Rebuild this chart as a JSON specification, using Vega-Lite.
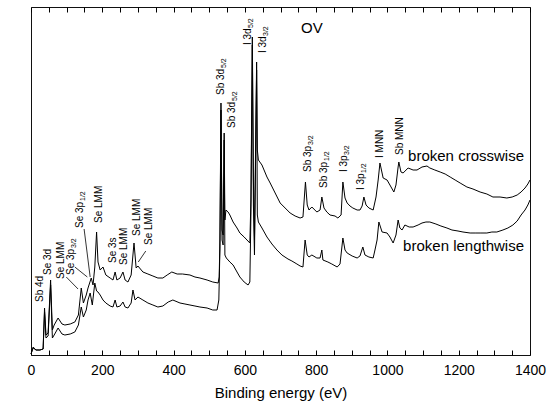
{
  "$schema": "https://vega.github.io/schema/vega-lite/v6.json",
  "width": 499,
  "height": 348,
  "autosize": {"type": "none"},
  "padding": {"left": 31, "top": 7, "right": 17, "bottom": 57},
  "background": "white",
  "config": {
    "font": "Liberation Sans",
    "view": {"stroke": "#111", "strokeWidth": 1},
    "axis": {"grid": false, "domain": false, "labelColor": "#000", "titleColor": "#000", "tickColor": "#000", "tickWidth": 1, "titleFontWeight": "normal", "zindex": 1}
  },
  "datasets": {
    "spectra": [
      {"s":"crosswise","e":0,"v":1},{"s":"crosswise","e":6,"v":8},{"s":"crosswise","e":14,"v":5},{"s":"crosswise","e":25,"v":5},{"s":"crosswise","e":34,"v":6},{"s":"crosswise","e":38,"v":47},{"s":"crosswise","e":42,"v":20},{"s":"crosswise","e":48,"v":22},{"s":"crosswise","e":55,"v":75},{"s":"crosswise","e":60,"v":25},{"s":"crosswise","e":65,"v":30},{"s":"crosswise","e":76,"v":37},{"s":"crosswise","e":87,"v":31},{"s":"crosswise","e":95,"v":30},{"s":"crosswise","e":110,"v":31},{"s":"crosswise","e":123,"v":33},{"s":"crosswise","e":133,"v":40},{"s":"crosswise","e":141,"v":67},{"s":"crosswise","e":147,"v":52},{"s":"crosswise","e":155,"v":60},{"s":"crosswise","e":160,"v":67},{"s":"crosswise","e":169,"v":77},{"s":"crosswise","e":174,"v":70},{"s":"crosswise","e":179,"v":88},{"s":"crosswise","e":184,"v":123},{"s":"crosswise","e":188,"v":93},{"s":"crosswise","e":194,"v":85},{"s":"crosswise","e":202,"v":88},{"s":"crosswise","e":210,"v":80},{"s":"crosswise","e":222,"v":77},{"s":"crosswise","e":230,"v":75},{"s":"crosswise","e":236,"v":83},{"s":"crosswise","e":241,"v":75},{"s":"crosswise","e":250,"v":77},{"s":"crosswise","e":258,"v":83},{"s":"crosswise","e":264,"v":75},{"s":"crosswise","e":272,"v":73},{"s":"crosswise","e":281,"v":80},{"s":"crosswise","e":289,"v":112},{"s":"crosswise","e":295,"v":87},{"s":"crosswise","e":300,"v":89},{"s":"crosswise","e":314,"v":83},{"s":"crosswise","e":328,"v":81},{"s":"crosswise","e":342,"v":79},{"s":"crosswise","e":356,"v":77},{"s":"crosswise","e":370,"v":77},{"s":"crosswise","e":382,"v":80},{"s":"crosswise","e":395,"v":83},{"s":"crosswise","e":410,"v":81},{"s":"crosswise","e":425,"v":81},{"s":"crosswise","e":446,"v":80},{"s":"crosswise","e":460,"v":78},{"s":"crosswise","e":474,"v":77},{"s":"crosswise","e":494,"v":75},{"s":"crosswise","e":510,"v":73},{"s":"crosswise","e":525,"v":72},{"s":"crosswise","e":528,"v":78},{"s":"crosswise","e":530,"v":115},{"s":"crosswise","e":533,"v":252},{"s":"crosswise","e":536,"v":125},{"s":"crosswise","e":539,"v":120},{"s":"crosswise","e":542,"v":222},{"s":"crosswise","e":544,"v":135},{"s":"crosswise","e":547,"v":145},{"s":"crosswise","e":553,"v":143},{"s":"crosswise","e":558,"v":140},{"s":"crosswise","e":567,"v":133},{"s":"crosswise","e":578,"v":127},{"s":"crosswise","e":586,"v":122},{"s":"crosswise","e":598,"v":118},{"s":"crosswise","e":606,"v":115},{"s":"crosswise","e":614,"v":112},{"s":"crosswise","e":617,"v":155},{"s":"crosswise","e":621,"v":318},{"s":"crosswise","e":624,"v":175},{"s":"crosswise","e":627,"v":115},{"s":"crosswise","e":633,"v":293},{"s":"crosswise","e":635,"v":205},{"s":"crosswise","e":638,"v":195},{"s":"crosswise","e":648,"v":190},{"s":"crosswise","e":662,"v":178},{"s":"crosswise","e":671,"v":172},{"s":"crosswise","e":685,"v":162},{"s":"crosswise","e":699,"v":152},{"s":"crosswise","e":713,"v":147},{"s":"crosswise","e":727,"v":142},{"s":"crosswise","e":741,"v":139},{"s":"crosswise","e":755,"v":137},{"s":"crosswise","e":763,"v":138},{"s":"crosswise","e":770,"v":173},{"s":"crosswise","e":775,"v":150},{"s":"crosswise","e":780,"v":145},{"s":"crosswise","e":788,"v":148},{"s":"crosswise","e":802,"v":143},{"s":"crosswise","e":811,"v":145},{"s":"crosswise","e":816,"v":158},{"s":"crosswise","e":822,"v":147},{"s":"crosswise","e":830,"v":143},{"s":"crosswise","e":839,"v":140},{"s":"crosswise","e":853,"v":139},{"s":"crosswise","e":861,"v":137},{"s":"crosswise","e":870,"v":140},{"s":"crosswise","e":875,"v":173},{"s":"crosswise","e":881,"v":157},{"s":"crosswise","e":887,"v":152},{"s":"crosswise","e":895,"v":149},{"s":"crosswise","e":903,"v":147},{"s":"crosswise","e":915,"v":145},{"s":"crosswise","e":923,"v":145},{"s":"crosswise","e":929,"v":149},{"s":"crosswise","e":934,"v":158},{"s":"crosswise","e":940,"v":150},{"s":"crosswise","e":948,"v":147},{"s":"crosswise","e":960,"v":145},{"s":"crosswise","e":968,"v":158},{"s":"crosswise","e":974,"v":175},{"s":"crosswise","e":979,"v":192},{"s":"crosswise","e":988,"v":177},{"s":"crosswise","e":999,"v":175},{"s":"crosswise","e":1007,"v":170},{"s":"crosswise","e":1018,"v":163},{"s":"crosswise","e":1024,"v":170},{"s":"crosswise","e":1030,"v":188},{"s":"crosswise","e":1032,"v":193},{"s":"crosswise","e":1038,"v":183},{"s":"crosswise","e":1044,"v":182},{"s":"crosswise","e":1058,"v":187},{"s":"crosswise","e":1072,"v":185},{"s":"crosswise","e":1083,"v":185},{"s":"crosswise","e":1097,"v":188},{"s":"crosswise","e":1111,"v":189},{"s":"crosswise","e":1119,"v":187},{"s":"crosswise","e":1133,"v":185},{"s":"crosswise","e":1148,"v":183},{"s":"crosswise","e":1162,"v":181},{"s":"crosswise","e":1176,"v":178},{"s":"crosswise","e":1190,"v":175},{"s":"crosswise","e":1204,"v":172},{"s":"crosswise","e":1223,"v":168},{"s":"crosswise","e":1240,"v":166},{"s":"crosswise","e":1260,"v":163},{"s":"crosswise","e":1279,"v":161},{"s":"crosswise","e":1296,"v":158},{"s":"crosswise","e":1316,"v":158},{"s":"crosswise","e":1335,"v":157},{"s":"crosswise","e":1350,"v":158},{"s":"crosswise","e":1364,"v":160},{"s":"crosswise","e":1375,"v":163},{"s":"crosswise","e":1386,"v":167},{"s":"crosswise","e":1394,"v":171},{"s":"crosswise","e":1400,"v":175},
      {"s":"lengthwise","e":0,"v":1},{"s":"lengthwise","e":6,"v":7},{"s":"lengthwise","e":14,"v":5},{"s":"lengthwise","e":25,"v":5},{"s":"lengthwise","e":34,"v":6},{"s":"lengthwise","e":38,"v":43},{"s":"lengthwise","e":42,"v":17},{"s":"lengthwise","e":48,"v":19},{"s":"lengthwise","e":55,"v":70},{"s":"lengthwise","e":60,"v":17},{"s":"lengthwise","e":65,"v":20},{"s":"lengthwise","e":76,"v":27},{"s":"lengthwise","e":87,"v":21},{"s":"lengthwise","e":95,"v":20},{"s":"lengthwise","e":110,"v":21},{"s":"lengthwise","e":123,"v":23},{"s":"lengthwise","e":133,"v":30},{"s":"lengthwise","e":141,"v":48},{"s":"lengthwise","e":147,"v":38},{"s":"lengthwise","e":155,"v":45},{"s":"lengthwise","e":160,"v":55},{"s":"lengthwise","e":166,"v":62},{"s":"lengthwise","e":172,"v":50},{"s":"lengthwise","e":179,"v":72},{"s":"lengthwise","e":184,"v":64},{"s":"lengthwise","e":188,"v":63},{"s":"lengthwise","e":194,"v":60},{"s":"lengthwise","e":202,"v":55},{"s":"lengthwise","e":210,"v":52},{"s":"lengthwise","e":222,"v":49},{"s":"lengthwise","e":230,"v":48},{"s":"lengthwise","e":236,"v":55},{"s":"lengthwise","e":241,"v":48},{"s":"lengthwise","e":250,"v":49},{"s":"lengthwise","e":258,"v":53},{"s":"lengthwise","e":264,"v":48},{"s":"lengthwise","e":272,"v":47},{"s":"lengthwise","e":281,"v":52},{"s":"lengthwise","e":286,"v":65},{"s":"lengthwise","e":292,"v":55},{"s":"lengthwise","e":300,"v":58},{"s":"lengthwise","e":314,"v":55},{"s":"lengthwise","e":328,"v":52},{"s":"lengthwise","e":342,"v":50},{"s":"lengthwise","e":356,"v":48},{"s":"lengthwise","e":370,"v":49},{"s":"lengthwise","e":385,"v":53},{"s":"lengthwise","e":398,"v":55},{"s":"lengthwise","e":418,"v":52},{"s":"lengthwise","e":432,"v":51},{"s":"lengthwise","e":446,"v":50},{"s":"lengthwise","e":460,"v":49},{"s":"lengthwise","e":474,"v":48},{"s":"lengthwise","e":494,"v":47},{"s":"lengthwise","e":510,"v":45},{"s":"lengthwise","e":522,"v":45},{"s":"lengthwise","e":527,"v":55},{"s":"lengthwise","e":530,"v":105},{"s":"lengthwise","e":533,"v":245},{"s":"lengthwise","e":536,"v":115},{"s":"lengthwise","e":539,"v":110},{"s":"lengthwise","e":542,"v":215},{"s":"lengthwise","e":544,"v":100},{"s":"lengthwise","e":548,"v":97},{"s":"lengthwise","e":553,"v":95},{"s":"lengthwise","e":558,"v":93},{"s":"lengthwise","e":567,"v":90},{"s":"lengthwise","e":578,"v":83},{"s":"lengthwise","e":586,"v":78},{"s":"lengthwise","e":598,"v":73},{"s":"lengthwise","e":609,"v":70},{"s":"lengthwise","e":614,"v":73},{"s":"lengthwise","e":617,"v":140},{"s":"lengthwise","e":621,"v":310},{"s":"lengthwise","e":624,"v":150},{"s":"lengthwise","e":627,"v":100},{"s":"lengthwise","e":633,"v":285},{"s":"lengthwise","e":635,"v":140},{"s":"lengthwise","e":638,"v":133},{"s":"lengthwise","e":648,"v":127},{"s":"lengthwise","e":662,"v":118},{"s":"lengthwise","e":676,"v":111},{"s":"lengthwise","e":690,"v":105},{"s":"lengthwise","e":704,"v":100},{"s":"lengthwise","e":721,"v":96},{"s":"lengthwise","e":732,"v":94},{"s":"lengthwise","e":746,"v":91},{"s":"lengthwise","e":755,"v":89},{"s":"lengthwise","e":763,"v":88},{"s":"lengthwise","e":769,"v":115},{"s":"lengthwise","e":775,"v":100},{"s":"lengthwise","e":780,"v":98},{"s":"lengthwise","e":788,"v":100},{"s":"lengthwise","e":802,"v":97},{"s":"lengthwise","e":811,"v":97},{"s":"lengthwise","e":816,"v":105},{"s":"lengthwise","e":819,"v":95},{"s":"lengthwise","e":833,"v":93},{"s":"lengthwise","e":844,"v":91},{"s":"lengthwise","e":859,"v":88},{"s":"lengthwise","e":867,"v":91},{"s":"lengthwise","e":875,"v":117},{"s":"lengthwise","e":881,"v":105},{"s":"lengthwise","e":887,"v":102},{"s":"lengthwise","e":901,"v":99},{"s":"lengthwise","e":915,"v":97},{"s":"lengthwise","e":923,"v":99},{"s":"lengthwise","e":931,"v":108},{"s":"lengthwise","e":937,"v":100},{"s":"lengthwise","e":948,"v":98},{"s":"lengthwise","e":960,"v":97},{"s":"lengthwise","e":965,"v":105},{"s":"lengthwise","e":971,"v":115},{"s":"lengthwise","e":976,"v":133},{"s":"lengthwise","e":985,"v":123},{"s":"lengthwise","e":999,"v":122},{"s":"lengthwise","e":1007,"v":118},{"s":"lengthwise","e":1016,"v":112},{"s":"lengthwise","e":1024,"v":120},{"s":"lengthwise","e":1030,"v":135},{"s":"lengthwise","e":1035,"v":127},{"s":"lengthwise","e":1041,"v":125},{"s":"lengthwise","e":1049,"v":130},{"s":"lengthwise","e":1061,"v":128},{"s":"lengthwise","e":1072,"v":128},{"s":"lengthwise","e":1086,"v":130},{"s":"lengthwise","e":1097,"v":132},{"s":"lengthwise","e":1108,"v":133},{"s":"lengthwise","e":1119,"v":133},{"s":"lengthwise","e":1136,"v":131},{"s":"lengthwise","e":1150,"v":129},{"s":"lengthwise","e":1167,"v":127},{"s":"lengthwise","e":1181,"v":125},{"s":"lengthwise","e":1198,"v":124},{"s":"lengthwise","e":1212,"v":123},{"s":"lengthwise","e":1232,"v":122},{"s":"lengthwise","e":1246,"v":122},{"s":"lengthwise","e":1260,"v":122},{"s":"lengthwise","e":1279,"v":122},{"s":"lengthwise","e":1293,"v":123},{"s":"lengthwise","e":1307,"v":123},{"s":"lengthwise","e":1324,"v":125},{"s":"lengthwise","e":1338,"v":127},{"s":"lengthwise","e":1352,"v":130},{"s":"lengthwise","e":1364,"v":134},{"s":"lengthwise","e":1375,"v":140},{"s":"lengthwise","e":1386,"v":145},{"s":"lengthwise","e":1394,"v":150},{"s":"lengthwise","e":1400,"v":155}
    ],
    "leaders": [
      {"e":99,"v":78,"e2":132,"v2":66},
      {"e":123,"v":88,"e2":158,"v2":78},
      {"e":149,"v":126,"e2":166,"v2":78},
      {"e":322,"v":104,"e2":301,"v2":93}
    ],
    "labels": [
      {"e":24,"v":53,"t":"Sb 4d"},
      {"e":48,"v":80,"t":"Se 3d"},
      {"e":83,"v":76,"t":"Se LMM"},
      {"e":113,"v":80,"t":"Se 3p"},
      {"e":137,"v":127,"t":"Se 3p"},
      {"e":191,"v":132,"t":"Se LMM"},
      {"e":231,"v":92,"t":"Se 3s"},
      {"e":261,"v":90,"t":"Se LMM"},
      {"e":296,"v":119,"t":"Se LMM"},
      {"e":330,"v":110,"t":"Se LMM"},
      {"e":532,"v":260,"t":"Sb 3d"},
      {"e":563,"v":227,"t":"Sb 3d"},
      {"e":608,"v":310,"t":"I 3d"},
      {"e":650,"v":302,"t":"I 3d"},
      {"e":777,"v":183,"t":"Sb 3p"},
      {"e":822,"v":167,"t":"Sb 3p"},
      {"e":878,"v":183,"t":"I 3p"},
      {"e":926,"v":165,"t":"I 3p"},
      {"e":979,"v":197,"t":"I MNN"},
      {"e":1035,"v":200,"t":"Sb MNN"}
    ],
    "subs": [
      {"e":113,"v":107,"t":"3/2"},
      {"e":137,"v":154,"t":"1/2"},
      {"e":532,"v":287,"t":"5/2"},
      {"e":563,"v":254,"t":"5/2"},
      {"e":608,"v":327,"t":"5/2"},
      {"e":650,"v":319,"t":"3/2"},
      {"e":777,"v":210,"t":"3/2"},
      {"e":822,"v":194,"t":"1/2"},
      {"e":878,"v":200,"t":"3/2"},
      {"e":926,"v":182,"t":"1/2"}
    ],
    "captions": [
      {"e":1058,"v":199,"t":"broken crosswise"},
      {"e":1044,"v":109,"t":"broken lengthwise"}
    ],
    "heading": [
      {"e":788,"v":327,"t":"OV"}
    ]
  },
  "layer": [
    {
      "data": {"name": "spectra"},
      "mark": {"type": "line", "color": "#000", "strokeWidth": 1},
      "encoding": {
        "x": {"field": "e", "type": "quantitative", "scale": {"domain": [0, 1400], "nice": false, "zero": false},
          "axis": {"orient": "bottom", "title": "Binding energy (eV)", "titleFontSize": 15, "titlePadding": 8, "labelFontSize": 14, "labelPadding": 8, "format": "d", "ticks": true, "offset": -5,
            "values": [0,50,100,150,200,250,300,350,400,450,500,550,600,650,700,750,800,850,900,950,1000,1050,1100,1150,1200,1250,1300,1350,1400],
            "labelExpr": "datum.value % 200 == 0 ? datum.label : ''", "labelOverlap": false, "labelFlush": false, "tickSize": 5}},
        "y": {"field": "v", "type": "quantitative", "scale": {"domain": [0, 348], "nice": false, "zero": false},
          "axis": {"title": "Intensity (arb.u.)", "titleFontSize": 15, "labels": false, "ticks": false, "titlePadding": 8}},
        "detail": {"field": "s", "type": "nominal"}
      }
    },
    {
      "data": {"name": "leaders"},
      "mark": {"type": "rule", "color": "#000", "strokeWidth": 0.8},
      "encoding": {
        "x": {"field": "e", "type": "quantitative",
          "axis": {"orient": "top", "title": null, "labels": false, "ticks": true, "tickSize": 5, "offset": -5,
            "values": [0,50,100,150,200,250,300,350,400,450,500,550,600,650,700,750,800,850,900,950,1000,1050,1100,1150,1200,1250,1300,1350,1400]}},
        "y": {"field": "v", "type": "quantitative", "axis": null},
        "x2": {"field": "e2"},
        "y2": {"field": "v2"}
      }
    },
    {
      "data": {"name": "labels"},
      "mark": {"type": "text", "angle": 270, "align": "left", "baseline": "middle", "fontSize": 10, "color": "#000"},
      "encoding": {
        "x": {"field": "e", "type": "quantitative", "axis": null},
        "y": {"field": "v", "type": "quantitative", "axis": null},
        "text": {"field": "t"}
      }
    },
    {
      "data": {"name": "subs"},
      "mark": {"type": "text", "angle": 270, "align": "left", "baseline": "middle", "fontSize": 7, "dy": 3, "color": "#000"},
      "encoding": {
        "x": {"field": "e", "type": "quantitative", "axis": null},
        "y": {"field": "v", "type": "quantitative", "axis": null},
        "text": {"field": "t"}
      }
    },
    {
      "data": {"name": "captions"},
      "mark": {"type": "text", "align": "left", "baseline": "middle", "fontSize": 15, "color": "#000"},
      "encoding": {
        "x": {"field": "e", "type": "quantitative", "axis": null},
        "y": {"field": "v", "type": "quantitative", "axis": null},
        "text": {"field": "t"}
      }
    },
    {
      "data": {"name": "heading"},
      "mark": {"type": "text", "align": "center", "baseline": "middle", "fontSize": 15, "color": "#000"},
      "encoding": {
        "x": {"field": "e", "type": "quantitative", "axis": null},
        "y": {"field": "v", "type": "quantitative", "axis": null},
        "text": {"field": "t"}
      }
    }
  ]
}
